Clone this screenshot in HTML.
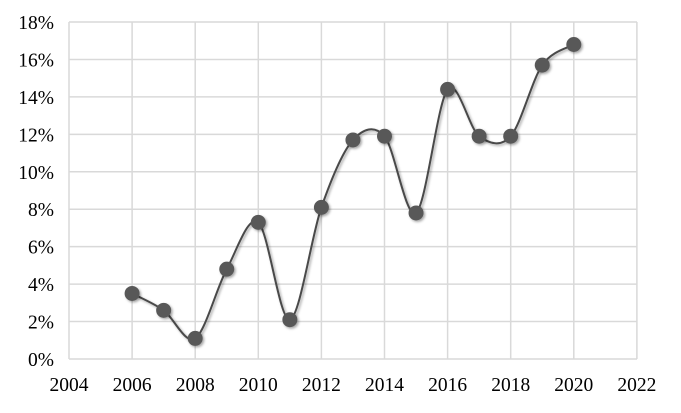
<!DOCTYPE html>
<html><head><style>
body{margin:0;background:#fff;}
svg text{font-family:"Liberation Serif",serif;font-size:19.5px;fill:#000;}
</style></head><body>
<svg id="s" width="681" height="408" xmlns="http://www.w3.org/2000/svg">
<defs><filter id="sh" x="-50%" y="-50%" width="200%" height="200%"><feDropShadow dx="1.5" dy="1.5" stdDeviation="1.2" flood-color="#000" flood-opacity="0.35"/></filter></defs>
<g id="grid" stroke="#d9d9d9" stroke-width="1.5"></g>
<g id="lab"></g>
<path id="ln" fill="none" stroke="#4a4a4a" stroke-width="2" filter="url(#sh)"/>
<g id="mk" fill="#595959" filter="url(#sh)"></g>
</svg>
<script>
var X=function(y){return 69+(y-2004)*31.55},Y=function(v){return 359-v*18.72};
var g=document.getElementById('grid'),lab=document.getElementById('lab'),h='';
for(var i=0;i<=9;i++){var y=Y(i*2);h+='<line x1="69" x2="637" y1="'+y+'" y2="'+y+'"/>';}
for(var yr=2004;yr<=2022;yr+=2){var x=X(yr);h+='<line x1="'+x+'" x2="'+x+'" y1="22" y2="359"/>';}
g.innerHTML=h;h='';
for(var i=0;i<=9;i++){h+='<text x="54" y="'+(Y(i*2)+7)+'" text-anchor="end">'+(i*2)+'%</text>';}
for(var yr=2004;yr<=2022;yr+=2){h+='<text x="'+X(yr)+'" y="391" text-anchor="middle">'+yr+'</text>';}
lab.innerHTML=h;
var d=[3.5,2.6,1.1,4.8,7.3,2.1,8.1,11.7,11.9,7.8,14.4,11.9,11.9,15.7,16.8];
var p=d.map(function(v,i){return [X(2006+i),Y(v)]});
var s='M'+p[0][0]+','+p[0][1];
for(var i=0;i<p.length-1;i++){var p0=p[i-1]||p[i],p1=p[i],p2=p[i+1],p3=p[i+2]||p2,t=0.16;
var c1=[p1[0]+(p2[0]-p0[0])*t,p1[1]+(p2[1]-p0[1])*t],c2=[p2[0]-(p3[0]-p1[0])*t,p2[1]-(p3[1]-p1[1])*t];
s+=' C'+c1+' '+c2+' '+p2;}
document.getElementById('ln').setAttribute('d',s);
h='';p.forEach(function(q){h+='<circle cx="'+q[0]+'" cy="'+q[1]+'" r="7.5"/>'});
document.getElementById('mk').innerHTML=h;
</script>
</body></html>
